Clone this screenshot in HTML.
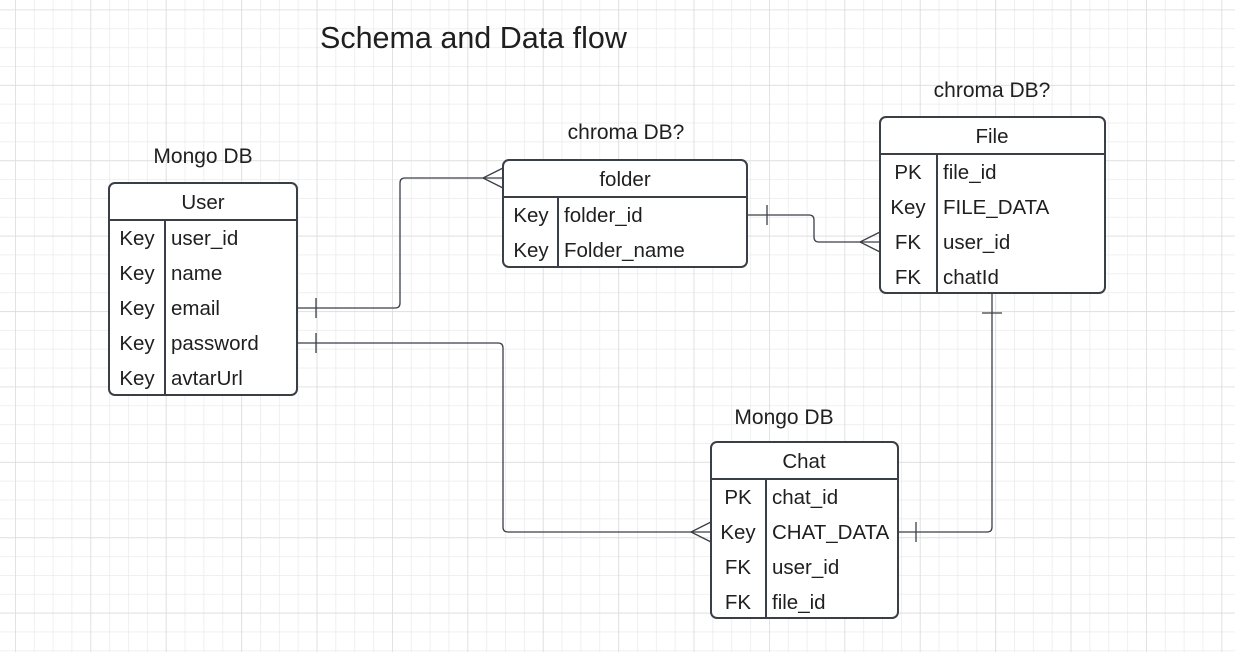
<!DOCTYPE html>
<html><head><style>
body{margin:0;background:#fff;}
svg text{font-family:"Liberation Sans",sans-serif;fill:#1f1f1f;}
</style></head><body>
<svg width="1235" height="652" xmlns="http://www.w3.org/2000/svg">
<defs>
<pattern id="g" width="18.85" height="18.85" patternUnits="userSpaceOnUse" x="15" y="9.5">
<path d="M0 0V18.85M0 0H18.85" stroke="#ebebeb" stroke-width="1.5" fill="none"/>
</pattern>
<pattern id="G" width="75.4" height="75.4" patternUnits="userSpaceOnUse" x="15" y="9.5">
<path d="M0 0V75.4M0 0H75.4" stroke="#dcdcdc" stroke-width="1.5" fill="none"/>
</pattern>
</defs>
<rect width="1235" height="652" fill="url(#g)"/>
<rect width="1235" height="652" fill="url(#G)"/>

<text x="320" y="48" font-size="30.5">Schema and Data flow</text>
<g font-size="21" text-anchor="middle">
<text x="203" y="163">Mongo DB</text>
<text x="626" y="139">chroma DB?</text>
<text x="992" y="97">chroma DB?</text>
<text x="784" y="424">Mongo DB</text>
</g>

<g fill="none" stroke="#3a3f47" stroke-width="1.3">
<path d="M297 308H395Q400 308 400 303V183Q400 178 405 178H503"/>
<path d="M316 298V318"/>
<path d="M503 168L483 178L503 188"/>
<path d="M297 343H498Q503 343 503 348V527Q503 532 508 532H711"/>
<path d="M316 333V353"/>
<path d="M711 522L691 532L711 542"/>
<path d="M747 215H809Q814 215 814 220V237Q814 242 819 242H880"/>
<path d="M767 205V225"/>
<path d="M880 232L860 242L880 252"/>
<path d="M992 293V527Q992 532 987 532H898"/>
<path d="M982 313H1002"/>
<path d="M916 522V542"/>
</g>

<g fill="#fff" stroke="#3a3f47" stroke-width="2">
<rect x="109" y="183" width="188" height="212" rx="6"/>
<rect x="503" y="160" width="244" height="107" rx="6"/>
<rect x="880" y="117" width="225" height="176" rx="6"/>
<rect x="711" y="442" width="187" height="176" rx="6"/>
</g>
<g stroke="#3a3f47" stroke-width="2">
<path d="M109 220H297M165 220V395"/>
<path d="M503 197H747M558 197V267"/>
<path d="M880 154H1105M937 154V293"/>
<path d="M711 479H898M766 479V618"/>
</g>

<g font-size="20.5">
<text x="203" y="209" text-anchor="middle">User</text>
<g text-anchor="middle"><text x="137" y="245">Key</text><text x="137" y="280">Key</text><text x="137" y="315">Key</text><text x="137" y="350">Key</text><text x="137" y="385">Key</text></g>
<text x="171" y="245">user_id</text><text x="171" y="280">name</text><text x="171" y="315">email</text><text x="171" y="350">password</text><text x="171" y="385">avtarUrl</text>

<text x="625" y="186" text-anchor="middle">folder</text>
<g text-anchor="middle"><text x="531" y="222">Key</text><text x="531" y="257">Key</text></g>
<text x="564" y="222">folder_id</text><text x="564" y="257">Folder_name</text>

<text x="992" y="143" text-anchor="middle">File</text>
<g text-anchor="middle"><text x="908" y="179">PK</text><text x="908" y="214">Key</text><text x="908" y="249">FK</text><text x="908" y="284">FK</text></g>
<text x="943" y="179">file_id</text><text x="943" y="214">FILE_DATA</text><text x="943" y="249">user_id</text><text x="943" y="284">chatId</text>

<text x="804" y="468" text-anchor="middle">Chat</text>
<g text-anchor="middle"><text x="738" y="504">PK</text><text x="738" y="539">Key</text><text x="738" y="574">FK</text><text x="738" y="609">FK</text></g>
<text x="772" y="504">chat_id</text><text x="772" y="539">CHAT_DATA</text><text x="772" y="574">user_id</text><text x="772" y="609">file_id</text>
</g>
</svg>
</body></html>
